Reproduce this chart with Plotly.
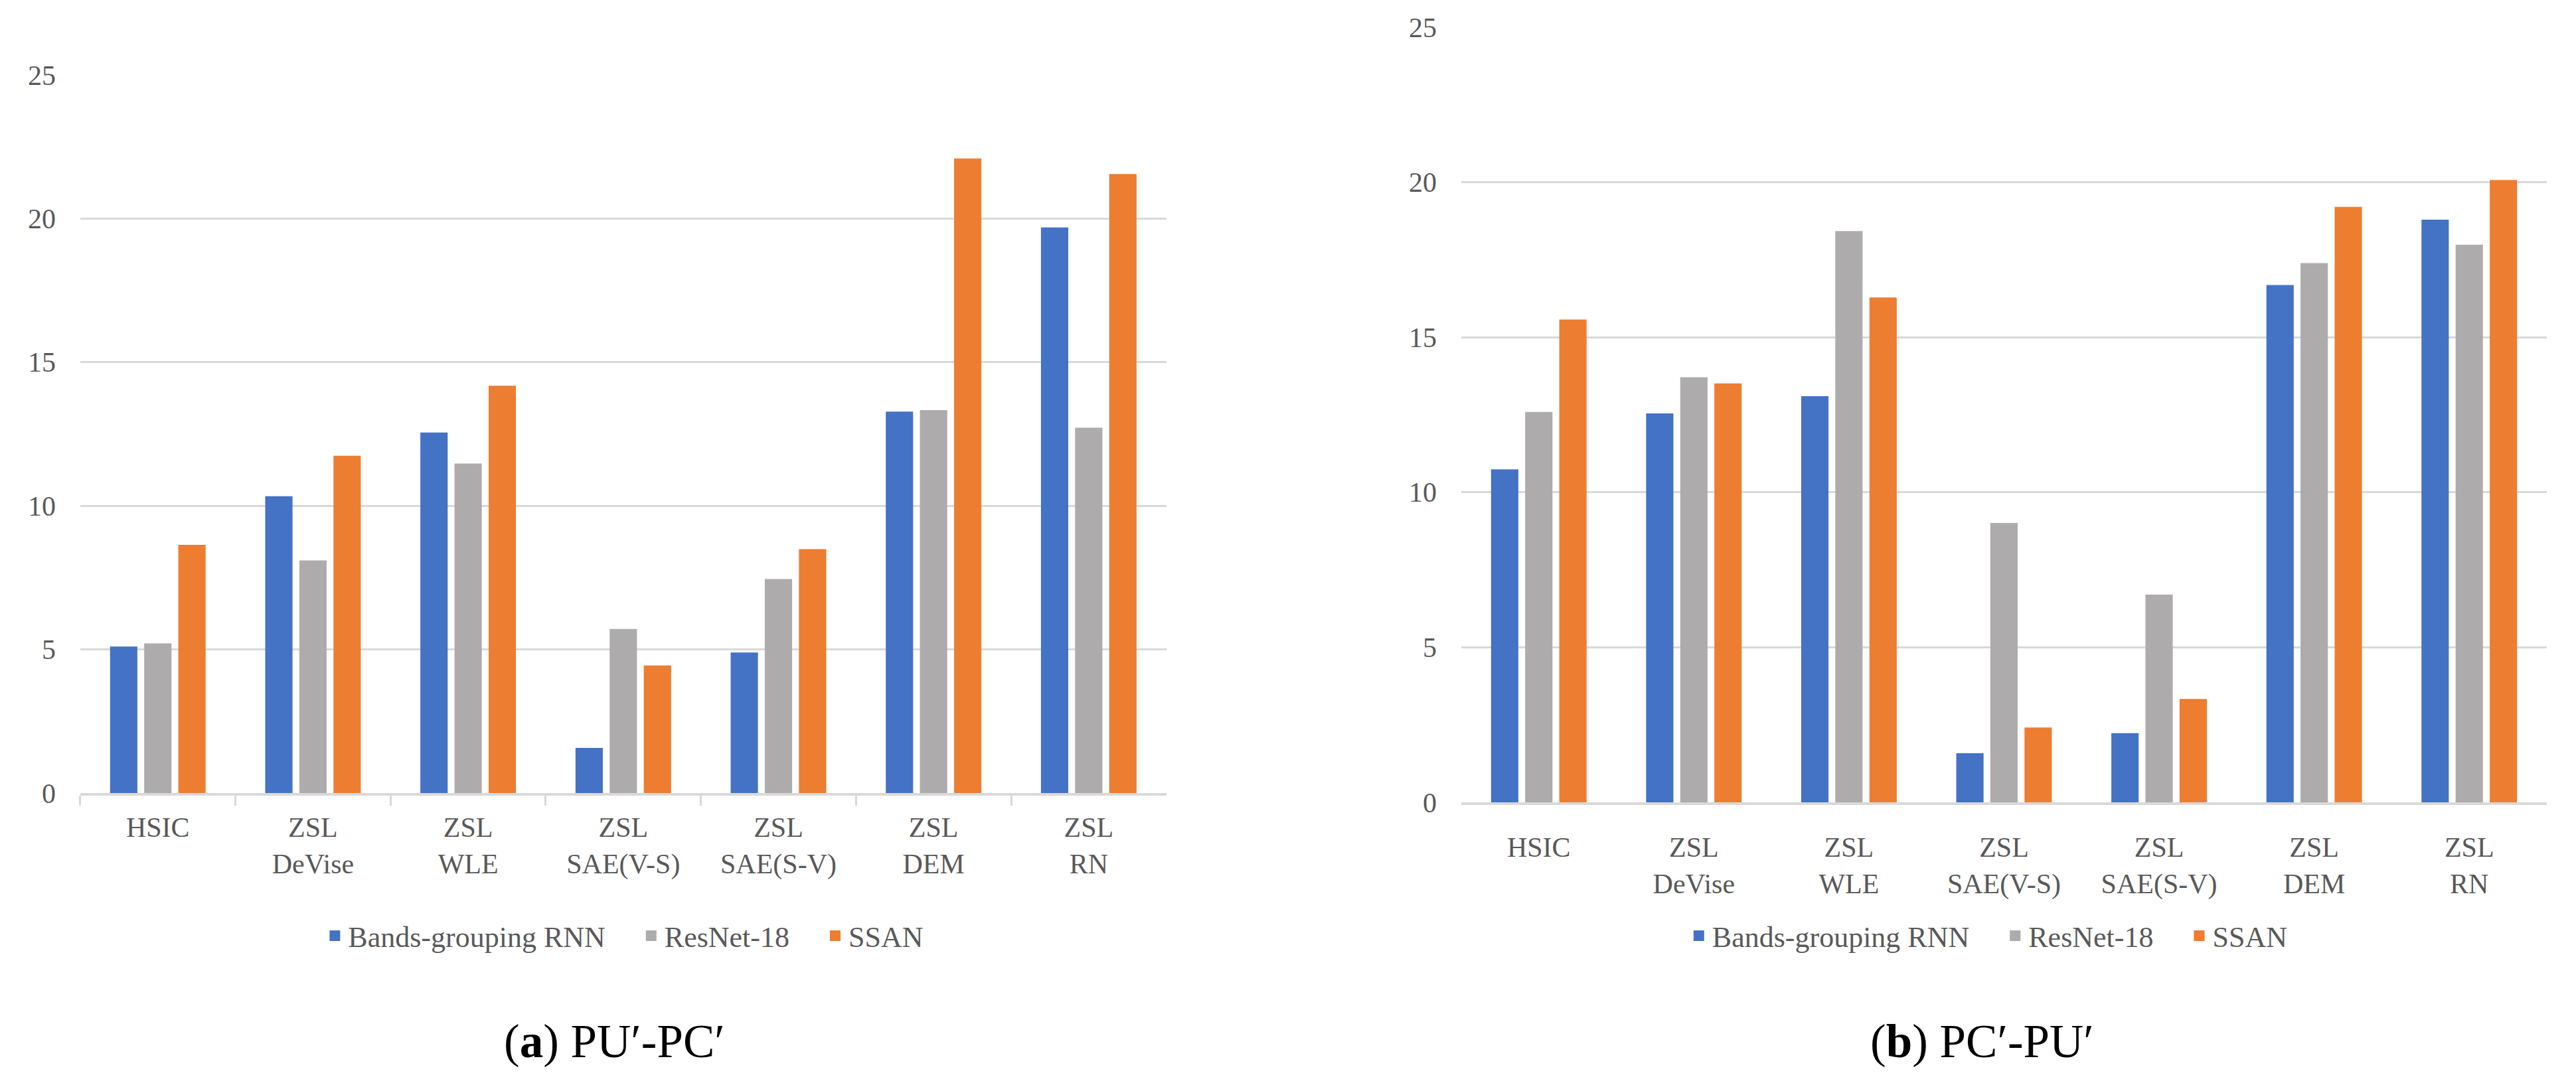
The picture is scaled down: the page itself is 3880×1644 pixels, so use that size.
import plotly.graph_objects as go

categories = ["HSIC", "ZSL<br>DeVise", "ZSL<br>WLE", "ZSL<br>SAE(V-S)",
              "ZSL<br>SAE(S-V)", "ZSL<br>DEM", "ZSL<br>RN"]
series_names = ["Bands-grouping RNN", "ResNet-18", "SSAN"]

# (a) PU'-PC'
a_rnn = [5.10, 10.33, 12.55, 1.57, 4.89, 13.28, 19.69]
a_resnet = [5.21, 8.10, 11.47, 5.71, 7.45, 13.33, 12.72]
a_ssan = [8.64, 11.74, 14.18, 4.44, 8.49, 22.09, 21.55]

# (b) PC'-PU'
b_rnn = [10.74, 12.54, 13.10, 1.58, 2.23, 16.68, 18.79]
b_resnet = [12.59, 13.71, 18.42, 9.01, 6.70, 17.39, 17.98]
b_ssan = [15.57, 13.51, 16.28, 2.41, 3.33, 19.20, 20.07]

y_ticks = [0, 5, 10, 15, 20, 25]
captions = ["(<b>a</b>) PU′-PC′", "(<b>b</b>) PC′-PU′"]

colors = ["#4472C4", "#ADABAB", "#ED7D31"]
FONT = "Liberation Serif"
TXT = "#595959"
GRID = "#D9D9D9"

fig = go.Figure()

panels = [
    ([a_rnn, a_resnet, a_ssan], "x", "y", "legend"),
    ([b_rnn, b_resnet, b_ssan], "x2", "y2", "legend2"),
]
for vals, xa, ya, lg in panels:
    for i, (name, v, c) in enumerate(zip(series_names, vals, colors)):
        fig.add_trace(go.Bar(x=categories, y=v, name=name, marker_color=c,
                             marker_line_width=0, xaxis=xa, yaxis=ya,
                             showlegend=False, legend=lg))
        # legend proxy with larger square symbol (extra spacing between items)
        label = name + ("\u00a0" * 4 if i < len(series_names) - 1 else "")
        fig.add_trace(go.Scatter(x=[None], y=[None], mode="markers", name=label,
                                 marker=dict(symbol="square", size=16, color=c),
                                 xaxis=xa, yaxis=ya, legend=lg, showlegend=True))

tickfont = dict(family=FONT, size=42, color=TXT)

def xaxis(domain, anchor, ticks):
    return dict(domain=domain, anchor=anchor, type="category", automargin=False,
                showline=True, linecolor=GRID, linewidth=4,
                ticks="outside" if ticks else "", tickson="boundaries",
                ticklen=15, tickwidth=3, tickcolor=GRID,
                tickfont=tickfont, showgrid=False, fixedrange=True,
                ticklabelstandoff=12 if ticks else 28)

def yaxis(domain, anchor):
    return dict(domain=domain, anchor=anchor, range=[0, 25], automargin=False,
                tickvals=y_ticks, ticktext=[str(t) for t in y_ticks],
                showgrid=True, gridcolor=GRID, gridwidth=3,
                zeroline=False, showline=False, ticks="",
                tickfont=tickfont, ticklabelstandoff=36, fixedrange=True)

legend_common = dict(orientation="h", xanchor="center", yanchor="middle",
                     font=dict(family=FONT, size=44, color=TXT),
                     bgcolor="rgba(0,0,0,0)", itemsizing="trace",
                     itemclick=False, itemdoubleclick=False)

fig.update_layout(
    width=3880, height=1644,
    margin=dict(l=0, r=0, t=0, b=0, autoexpand=False),
    paper_bgcolor="white", plot_bgcolor="white",
    barmode="group", bargap=0.34, bargroupgap=0.2,
    xaxis=xaxis([0.0291, 0.4507], "y", True),
    yaxis=yaxis([0.2780, 0.9362], "x"),
    xaxis2=xaxis([0.5652, 0.9866], "y2", False),
    yaxis2=yaxis([0.2695, 0.9800], "x2"),
    legend=dict(x=0.2403, y=0.147, **legend_common),
    legend2=dict(x=0.7698, y=0.147, **legend_common),
    annotations=[
        dict(text=captions[0], x=0.2364, y=0.050, xref="paper", yref="paper",
             xanchor="center", yanchor="middle", showarrow=False,
             font=dict(family=FONT, size=71, color="black")),
        dict(text=captions[1], x=0.7673, y=0.050, xref="paper", yref="paper",
             xanchor="center", yanchor="middle", showarrow=False,
             font=dict(family=FONT, size=71, color="black")),
    ],
)

fig.write_html("out.html")
